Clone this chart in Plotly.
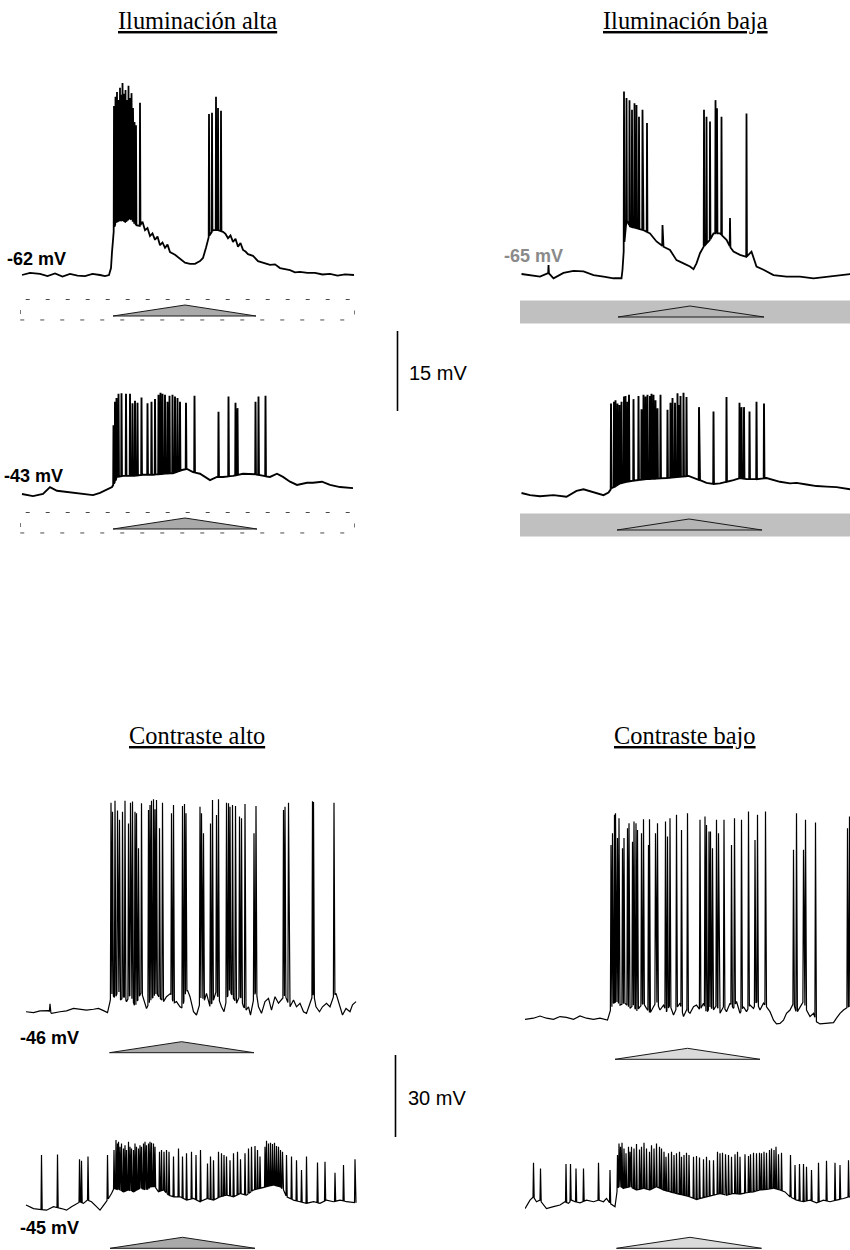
import numpy as np
import plotly.graph_objects as go

W, H = 850, 1250

# ------------------------------------------------------------------
# Recordings: slow membrane potential (t in s, v in mV) and spike peaks
# ------------------------------------------------------------------

# Iluminación alta, upper trace (-62 mV)
ia1_t = [0.04, 0.2, 0.4, 0.55, 0.7, 0.85, 1.0, 1.15, 1.3, 1.45, 1.6, 1.7, 1.78, 1.82, 1.84, 1.88, 1.92, 2.0, 2.1, 2.2,
         2.3, 2.4, 2.45, 2.5, 2.55, 2.6, 2.65, 2.7, 2.75, 2.8, 2.85, 2.9, 2.95, 3.0, 3.1, 3.2, 3.3, 3.4, 3.5, 3.6,
         3.66, 3.72, 3.78, 3.86, 3.96, 4.06, 4.11, 4.16, 4.21, 4.26, 4.31, 4.36, 4.41, 4.46, 4.51, 4.56, 4.66, 4.76,
         4.86, 5.0, 5.1, 5.2, 5.3, 5.4, 5.5, 5.6, 5.75, 5.9, 6.05, 6.2, 6.35, 6.5, 6.68]
ia1_v = [-62.0, -61.6, -61.8, -62.2, -61.7, -62.3, -61.8, -62.1, -62.2, -61.8, -62.0, -62.2, -62.0, -60.7, -57.7,
         -53.2, -52.1, -51.7, -52.1, -51.3, -52.6, -52.8, -52.0, -53.6, -53.2, -54.7, -54.2, -55.4, -54.8, -56.4,
         -55.9, -56.9, -56.3, -57.7, -58.2, -59.0, -59.7, -59.9, -59.9, -59.4, -58.8, -56.9, -54.7, -53.6, -53.6,
         -53.9, -54.3, -55.1, -54.6, -55.8, -55.2, -56.7, -56.0, -57.3, -57.6, -58.1, -58.4, -59.4, -59.7, -60.1,
         -60.0, -60.7, -60.9, -61.1, -61.5, -61.4, -61.6, -61.6, -61.9, -61.8, -62.1, -61.9, -62.0]
ia1_spk_t = [1.88, 1.91, 1.94, 1.97, 2.00, 2.02, 2.05, 2.08, 2.11, 2.14, 2.17, 2.20, 2.23, 2.26, 2.29, 2.32, 2.40,
             3.78, 3.84, 3.92, 3.96, 4.02]
ia1_spk_v = [-30.3, -28.6, -27.7, -29.2, -26.9, -28.2, -26.0, -28.0, -27.3, -29.2, -26.5, -28.8, -27.9, -30.7, -33.3,
             -33.9, -29.7, -31.8, -31.6, -28.6, -30.7, -31.2]

# Iluminación alta, lower trace (-43 mV)
ia2_t = [0.04, 0.26, 0.46, 0.6, 0.74, 0.94, 1.2, 1.46, 1.6, 1.74, 1.84, 1.9, 1.94, 2.06, 2.26, 2.46, 2.66, 2.86, 3.06,
         3.24, 3.34, 3.46, 3.6, 3.8, 3.94, 4.06, 4.26, 4.46, 4.66, 4.86, 5.0, 5.14, 5.26, 5.4, 5.54, 5.74, 5.86, 6.04,
         6.2, 6.4, 6.66]
ia2_v = [-43.0, -43.4, -43.0, -41.7, -42.4, -42.6, -43.0, -43.2, -42.8, -42.2, -41.7, -40.7, -39.8, -39.6, -39.6,
         -39.4, -39.4, -39.2, -39.1, -38.5, -38.3, -38.9, -39.2, -40.4, -39.8, -39.8, -39.6, -39.2, -39.2, -39.6,
         -39.8, -39.2, -39.8, -40.7, -41.3, -40.9, -40.9, -40.7, -41.3, -41.7, -41.9]
ia2_spk_t = [1.87, 1.90, 1.93, 1.97, 2.03, 2.12, 2.20, 2.25, 2.30, 2.35, 2.43, 2.55, 2.63, 2.70, 2.77, 2.81, 2.85,
             2.90, 2.95, 2.99, 3.05, 3.10, 3.15, 3.20, 3.32, 3.49, 3.97, 4.17, 4.31, 4.35, 4.71, 4.77, 4.91]
ia2_spk_v = [-30.1, -25.7, -25.0, -24.2, -24.1, -24.2, -24.2, -26.0, -25.5, -25.9, -24.9, -26.0, -25.7, -25.2, -24.4,
             -24.0, -24.2, -24.4, -25.7, -24.6, -24.4, -24.7, -25.0, -25.7, -25.9, -24.6, -27.6, -24.7, -25.9, -26.9,
             -25.7, -24.7, -24.6]

# Iluminación baja, upper trace (-65 mV)
ib1_t = [0.03, 0.2, 0.4, 0.57, 0.67, 0.87, 1.07, 1.27, 1.47, 1.67, 1.87, 2.03, 2.05, 2.08, 2.13, 2.2, 2.33, 2.47, 2.6,
         2.73, 2.87, 3.0, 3.13, 3.27, 3.4, 3.47, 3.53, 3.6, 3.67, 3.8, 3.87, 4.0, 4.13, 4.2, 4.27, 4.4, 4.53, 4.63,
         4.68, 4.73, 4.87, 5.07, 5.33, 5.6, 5.87, 6.13, 6.4, 6.7]
ib1_v = [-65.0, -65.2, -65.5, -64.8, -65.8, -64.8, -64.4, -64.5, -65.2, -65.5, -65.8, -65.8, -64.2, -59.9, -54.9,
         -56.1, -56.4, -56.8, -57.4, -58.9, -59.9, -60.5, -62.4, -63.0, -63.6, -64.1, -63.0, -61.1, -59.9, -58.6,
         -57.4, -57.4, -58.6, -59.9, -60.8, -61.4, -61.8, -60.8, -62.4, -63.6, -64.2, -65.2, -65.5, -65.5, -65.8,
         -65.5, -65.2, -64.9]
ib1_spk_t = [0.57, 2.08, 2.13, 2.19, 2.24, 2.29, 2.33, 2.38, 2.45, 2.54, 2.85, 3.68, 3.73, 3.80, 3.91, 3.94, 4.03,
             4.20, 4.53]
ib1_spk_v = [-63.3, -30.8, -32.0, -32.4, -34.2, -33.0, -33.3, -35.5, -34.2, -36.7, -55.8, -34.2, -35.5, -36.4, -32.4,
             -33.9, -35.5, -54.5, -34.9]

# Iluminación baja, lower trace
ib2_t = [0.03, 0.2, 0.4, 0.67, 0.93, 1.13, 1.27, 1.47, 1.67, 1.77, 1.83, 1.9, 2.0, 2.13, 2.33, 2.53, 2.73, 2.93, 3.13,
         3.27, 3.37, 3.47, 3.6, 3.73, 3.87, 4.0, 4.13, 4.27, 4.4, 4.53, 4.73, 4.93, 5.07, 5.2, 5.4, 5.53, 5.73, 5.93,
         6.13, 6.33, 6.6, 6.7]
ib2_v = [-44.0, -44.4, -44.6, -44.4, -44.7, -43.6, -43.3, -43.8, -44.4, -43.9, -43.1, -42.8, -42.2, -41.9, -41.6,
         -41.4, -41.3, -41.2, -41.0, -40.9, -40.8, -41.2, -41.6, -42.1, -42.3, -42.2, -41.9, -41.6, -41.2, -41.4,
         -41.4, -41.2, -41.6, -41.9, -42.2, -42.1, -42.4, -42.7, -42.8, -42.9, -43.3, -43.3]
ib2_spk_t = [1.82, 1.88, 1.91, 1.95, 1.99, 2.03, 2.08, 2.11, 2.15, 2.18, 2.27, 2.37, 2.43, 2.47, 2.51, 2.55, 2.60,
             2.63, 2.67, 2.71, 2.75, 2.81, 2.95, 3.01, 3.05, 3.10, 3.15, 3.18, 3.21, 3.27, 3.33, 3.58, 3.87, 4.13,
             4.39, 4.43, 4.48, 4.59, 4.73, 4.88]
ib2_spk_v = [-27.2, -26.9, -26.6, -27.2, -27.5, -26.9, -25.9, -25.8, -26.9, -25.6, -26.4, -25.8, -28.3, -25.6, -25.9,
             -25.6, -25.8, -25.4, -25.6, -26.6, -28.1, -25.6, -28.4, -27.1, -26.2, -27.1, -25.3, -27.5, -25.8, -25.2,
             -26.0, -27.9, -28.7, -26.0, -27.1, -27.9, -27.9, -28.7, -26.9, -27.2]

# Contraste alto, upper trace (-46 mV)
ca1_t = [0.02, 0.17, 0.3, 0.47, 0.53, 0.7, 0.83, 0.97, 1.1, 1.23, 1.37, 1.47, 1.57, 1.65, 1.7, 1.73, 1.8, 1.87, 1.91,
         1.98, 2.03, 2.1, 2.15, 2.2, 2.27, 2.33, 2.4, 2.43, 2.5, 2.57, 2.63, 2.7, 2.77, 2.83, 2.91, 2.97, 3.03, 3.1,
         3.15, 3.2, 3.25, 3.3, 3.37, 3.43, 3.49, 3.53, 3.58, 3.63, 3.7, 3.77, 3.82, 3.87, 3.93, 3.98, 4.03, 4.09,
         4.17, 4.23, 4.3, 4.37, 4.42, 4.47, 4.51, 4.57, 4.62, 4.67, 4.73, 4.8, 4.87, 4.93, 5.0, 5.07, 5.13, 5.2,
         5.25, 5.3, 5.37, 5.43, 5.5, 5.57, 5.63, 5.71, 5.77, 5.82, 5.89, 5.95, 6.03, 6.1, 6.17, 6.22, 6.29, 6.35,
         6.42, 6.5, 6.55, 6.62]
ca1_v = [-45.9, -46.2, -45.6, -45.5, -46.5, -45.9, -45.6, -44.7, -45.0, -45.3, -45.0, -44.7, -45.5, -46.2, -42.2,
         -39.2, -41.0, -38.0, -41.6, -40.4, -42.2, -39.8, -41.6, -44.1, -41.0, -38.6, -43.4, -44.7, -42.2, -40.4,
         -39.2, -41.0, -42.2, -40.4, -39.2, -42.8, -42.2, -44.1, -44.7, -39.8, -38.0, -40.4, -45.9, -47.1, -43.4,
         -39.8, -42.2, -39.2, -44.1, -41.6, -38.6, -41.0, -44.1, -45.9, -41.6, -38.0, -41.0, -42.8, -39.8, -44.1,
         -45.3, -44.1, -47.1, -41.6, -38.0, -44.1, -46.5, -42.2, -41.0, -45.3, -40.4, -42.8, -41.6, -39.8, -42.2,
         -44.1, -41.6, -44.1, -42.8, -45.9, -46.5, -42.2, -39.2, -44.1, -45.9, -44.1, -42.8, -44.1, -40.4, -39.2,
         -43.4, -47.1, -44.7, -45.9, -43.4, -42.2]
ca1_spk_t = [0.5, 1.72, 1.75, 1.8, 1.85, 1.89, 1.95, 2.0, 2.07, 2.11, 2.15, 2.2, 2.23, 2.27, 2.33, 2.47, 2.5, 2.53,
             2.57, 2.6, 2.63, 2.69, 2.75, 2.93, 2.97, 3.15, 3.19, 3.22, 3.5, 3.53, 3.57, 3.71, 3.75, 3.83, 3.87, 4.03,
             4.07, 4.1, 4.15, 4.21, 4.29, 4.33, 4.4, 4.58, 4.62, 5.17, 5.2, 5.27, 5.75, 5.77, 6.18]
ca1_spk_v = [-43.0, 30.6, 27.3, 31.3, 27.7, 24.3, 27.3, 31.3, 23.0, 30.6, 31.0, 27.3, 26.7, 13.9, 30.4, 27.9, 29.7,
             31.3, 31.8, 28.2, 31.6, 21.2, 30.6, 26.7, 29.7, 29.4, 30.1, 26.7, 29.1, 26.7, 19.4, 23.0, 31.6, 26.1,
             31.8, 30.6, 30.4, 29.1, 29.7, 29.4, 25.5, 24.9, 30.1, 19.4, 29.4, 27.9, 29.1, 30.6, 31.1, 30.8, 30.6]

# Contraste alto, lower trace (-45 mV)
ca2_t = [0.02, 0.17, 0.43, 0.57, 0.73, 0.83, 0.93, 1.03, 1.1, 1.17, 1.25, 1.33, 1.43, 1.5, 1.6, 1.67, 1.73, 1.78,
         1.87, 1.97, 2.07, 2.17, 2.3, 2.43, 2.53, 2.6, 2.67, 2.77, 2.87, 2.97, 3.1, 3.23, 3.37, 3.5, 3.63, 3.77, 3.9,
         4.03, 4.17, 4.3, 4.43, 4.57, 4.7, 4.83, 4.97, 5.1, 5.17, 5.23, 5.37, 5.5, 5.63, 5.77, 5.9, 6.03, 6.17, 6.3,
         6.43, 6.62]
ca2_v = [-45.0, -46.3, -46.9, -45.6, -46.3, -46.9, -45.6, -44.7, -43.8, -44.4, -43.2, -43.8, -45.6, -46.9, -44.4,
         -42.6, -40.8, -38.9, -39.5, -40.2, -39.5, -40.2, -38.9, -39.5, -38.3, -38.3, -40.2, -39.5, -41.4, -42.0,
         -42.0, -43.2, -42.6, -43.8, -42.6, -43.2, -42.0, -41.4, -42.0, -40.8, -41.4, -39.5, -38.9, -38.3, -37.7,
         -38.3, -39.5, -42.0, -43.2, -43.8, -44.4, -43.8, -44.4, -43.2, -43.8, -43.2, -43.8, -44.2]
ca2_spk_t = [0.33, 0.65, 1.09, 1.13, 1.26, 1.65, 1.78, 1.82, 1.85, 1.87, 1.9, 1.93, 1.97, 2.0, 2.03, 2.07, 2.1, 2.13,
             2.17, 2.2, 2.23, 2.27, 2.3, 2.33, 2.37, 2.4, 2.43, 2.47, 2.5, 2.53, 2.57, 2.6, 2.69, 2.73, 2.78, 2.83,
             2.88, 2.97, 3.07, 3.15, 3.23, 3.33, 3.42, 3.51, 3.65, 3.71, 3.77, 3.87, 3.93, 3.98, 4.03, 4.1, 4.17, 4.25,
             4.31, 4.4, 4.47, 4.53, 4.6, 4.65, 4.7, 4.8, 4.83, 4.87, 4.91, 4.95, 4.99, 5.03, 5.07, 5.11, 5.15, 5.23,
             5.33, 5.43, 5.53, 5.63, 5.85, 6.0, 6.2, 6.37, 6.6]
ca2_spk_v = [-26.7, -26.5, -28.3, -28.8, -27.3, -26.7, -24.9, -21.2, -22.5, -21.9, -23.7, -22.5, -24.3, -23.1, -24.9,
             -21.9, -23.7, -24.3, -24.9, -22.5, -23.7, -24.3, -23.1, -23.7, -22.5, -21.9, -23.1, -22.5, -21.9, -22.2,
             -22.5, -23.7, -25.5, -24.9, -25.5, -24.9, -25.5, -27.3, -24.3, -27.3, -26.1, -25.5, -26.7, -24.9, -29.8,
             -27.3, -28.6, -25.5, -26.1, -26.7, -27.3, -28.6, -26.1, -25.5, -28.3, -26.1, -24.3, -23.7, -23.4, -24.9,
             -27.3, -23.7, -21.5, -22.5, -22.2, -22.7, -22.2, -23.4, -23.7, -24.9, -25.5, -26.7, -27.3, -28.6, -32.2,
             -27.3, -29.5, -29.2, -33.2, -30.4, -28.3]

# Contraste bajo, upper trace
cb1_t = [0.0, 0.17, 0.3, 0.43, 0.57, 0.7, 0.83, 0.97, 1.1, 1.23, 1.37, 1.5, 1.65, 1.71, 1.77, 1.83, 1.9, 2.0, 2.1,
         2.17, 2.23, 2.3, 2.37, 2.43, 2.5, 2.57, 2.63, 2.7, 2.77, 2.83, 2.9, 2.97, 3.03, 3.1, 3.17, 3.23, 3.3, 3.37,
         3.43, 3.5, 3.57, 3.63, 3.7, 3.77, 3.83, 3.9, 3.97, 4.03, 4.1, 4.17, 4.23, 4.3, 4.37, 4.43, 4.5, 4.57, 4.63,
         4.7, 4.77, 4.83, 4.9, 4.97, 5.03, 5.1, 5.17, 5.23, 5.3, 5.37, 5.43, 5.5, 5.57, 5.63, 5.7, 5.77, 5.83, 5.9,
         6.03, 6.17, 6.23, 6.3, 6.37, 6.47, 6.6]
cb1_v = [-47.0, -46.6, -45.8, -46.6, -47.0, -46.0, -46.3, -47.0, -45.8, -46.6, -47.0, -46.6, -47.3, -43.6, -41.1,
         -40.5, -41.8, -41.1, -43.0, -41.8, -44.2, -42.4, -41.1, -43.0, -44.8, -42.4, -40.5, -43.6, -41.8, -44.2,
         -41.8, -45.4, -43.0, -41.1, -46.0, -43.6, -44.8, -42.4, -41.8, -43.6, -41.1, -44.8, -42.4, -43.6, -41.8,
         -44.8, -42.4, -44.2, -41.1, -43.0, -40.5, -44.8, -42.4, -44.2, -41.8, -43.0, -40.5, -43.6, -41.1, -42.4,
         -44.2, -47.3, -48.7, -48.5, -47.3, -44.8, -43.6, -41.1, -44.8, -42.4, -40.5, -43.6, -46.0, -44.8, -47.9,
         -48.7, -48.5, -48.2, -46.6, -44.8, -43.6, -42.4, -42.0]
cb1_spk_t = [1.72, 1.75, 1.79, 1.81, 1.85, 1.88, 1.95, 1.98, 2.05, 2.08, 2.15, 2.18, 2.22, 2.25, 2.33, 2.37, 2.47,
             2.49, 2.61, 2.65, 2.81, 2.85, 2.9, 3.03, 3.13, 3.25, 3.5, 3.6, 3.63, 3.68, 3.71, 3.75, 3.83, 3.87, 3.98,
             4.13, 4.19, 4.33, 4.47, 4.6, 4.65, 4.81, 5.37, 5.43, 5.57, 5.61, 5.81, 6.45, 6.49]
cb1_spk_v = [16.8, 21.1, 27.8, 28.4, 19.3, 26.6, 15.6, 19.3, 22.9, 24.7, 18.0, 25.4, 24.7, 22.3, 21.1, 26.2, 16.8,
             26.2, 21.1, 24.7, 25.4, 19.9, 26.6, 27.8, 22.3, 28.4, 26.0, 27.2, 24.1, 21.7, 21.7, 15.6, 26.0, 21.1,
             26.0, 16.8, 26.6, 26.0, 29.0, 18.6, 27.8, 29.0, 15.0, 28.4, 15.0, 26.0, 25.0, 22.9, 27.2]

# Contraste bajo, lower trace
cb2_t = [0.0, 0.1, 0.17, 0.23, 0.3, 0.37, 0.43, 0.57, 0.7, 0.8, 0.87, 0.93, 1.0, 1.1, 1.23, 1.37, 1.47, 1.57, 1.63,
         1.7, 1.8, 1.83, 1.87, 1.97, 2.1, 2.23, 2.37, 2.5, 2.63, 2.77, 2.9, 3.03, 3.17, 3.3, 3.43, 3.5, 3.63, 3.77,
         3.9, 4.03, 4.17, 4.3, 4.43, 4.57, 4.7, 4.83, 4.97, 5.1, 5.2, 5.3, 5.43, 5.57, 5.7, 5.83, 5.97, 6.1, 6.23,
         6.37, 6.47, 6.6]
cb2_v = [-46.1, -43.0, -41.8, -43.6, -43.0, -44.8, -46.1, -45.4, -44.8, -43.6, -44.2, -43.0, -43.6, -44.0, -43.0,
         -43.6, -43.0, -43.6, -42.4, -44.2, -45.4, -40.6, -38.1, -38.7, -38.1, -39.3, -38.7, -39.3, -38.1, -39.3,
         -40.0, -40.6, -41.2, -41.8, -42.8, -42.4, -41.8, -41.2, -40.6, -41.2, -40.6, -40.8, -40.3, -40.0, -39.3,
         -39.1, -38.7, -39.3, -40.0, -41.8, -43.0, -43.6, -43.0, -44.0, -43.0, -43.6, -43.0, -42.4, -41.8, -41.8]
cb2_spk_t = [0.17, 0.31, 0.82, 0.91, 1.02, 1.17, 1.47, 1.7, 1.85, 1.88, 1.91, 1.94, 1.98, 2.02, 2.07, 2.1, 2.13, 2.18,
             2.23, 2.29, 2.33, 2.38, 2.43, 2.49, 2.53, 2.58, 2.63, 2.69, 2.73, 2.78, 2.82, 2.87, 2.93, 2.98, 3.03,
             3.09, 3.13, 3.18, 3.23, 3.28, 3.37, 3.43, 3.49, 3.57, 3.63, 3.69, 3.77, 3.85, 3.9, 3.95, 4.01, 4.07,
             4.13, 4.2, 4.25, 4.3, 4.4, 4.47, 4.51, 4.57, 4.63, 4.69, 4.73, 4.78, 4.83, 4.89, 4.93, 4.98, 5.02, 5.07,
             5.13, 5.31, 5.4, 5.49, 5.57, 5.63, 5.73, 5.87, 6.03, 6.2, 6.3, 6.47]
cb2_spk_v = [-29.3, -31.4, -29.8, -29.8, -31.4, -31.4, -29.3, -32.0, -26.5, -22.3, -23.5, -22.0, -24.1, -25.9, -23.5,
             -25.3, -23.5, -24.1, -22.5, -24.5, -23.5, -22.0, -24.1, -25.3, -22.9, -24.1, -22.3, -23.5, -24.1, -25.3,
             -27.1, -25.9, -25.3, -26.5, -25.9, -25.3, -27.1, -26.5, -25.7, -26.5, -27.1, -26.9, -27.4, -28.1, -27.1,
             -28.4, -28.4, -25.3, -25.9, -25.7, -26.2, -26.5, -27.1, -26.2, -25.3, -27.1, -26.2, -26.9, -26.2, -25.7,
             -25.9, -25.7, -25.9, -25.3, -25.7, -24.7, -24.1, -24.7, -23.5, -26.2, -25.7, -26.5, -30.2, -29.8, -29.8,
             -30.8, -32.0, -29.3, -28.6, -29.3, -30.2, -28.4]

# Stimulus ramps: onset, peak, offset (s)
stim_ia1 = [1.86, 3.30, 4.72]
stim_ia2 = [1.86, 3.30, 4.74]
stim_ib1 = [1.96, 3.40, 4.88]
stim_ib2 = [1.94, 3.38, 4.84]
stim_ca1 = [1.69, 3.13, 4.58]
stim_ca2 = [1.70, 3.15, 4.60]
stim_cb1 = [1.80, 3.25, 4.70]
stim_cb2 = [1.83, 3.30, 4.73]

# Scale bars (mV)
scale_ilum_mv = 15
scale_contr_mv = 30

# Resting potential labels
vm_labels = ["-62 mV", "-43 mV", "-65 mV", "-46 mV", "-45 mV"]
titles = ["Iluminación alta", "Iluminación baja", "Contraste alto", "Contraste bajo"]


# ------------------------------------------------------------------
def build_trace(env_t, env_v, spk_t, spk_v, rise, fall):
    """Slow potential with each action potential drawn as a narrow spike."""
    assert len(env_t) == len(env_v) and len(spk_t) == len(spk_v)
    env_t = np.asarray(env_t, float)
    env_v = np.asarray(env_v, float)
    keep = np.ones(len(env_t), bool)
    for t in spk_t:
        keep &= ~((env_t > t - rise) & (env_t < t + fall))
    pts = list(zip(env_t[keep], env_v[keep]))
    for t, v in zip(spk_t, spk_v):
        pts.append((t - rise, float(np.interp(t - rise, env_t, env_v))))
        pts.append((t, v))
        pts.append((t + fall, float(np.interp(t + fall, env_t, env_v))))
    pts.sort(key=lambda p: p[0])
    return [p[0] for p in pts], [p[1] for p in pts]


fig = go.Figure()
axis_count = [0]


def xdom(a, b):
    return [a / W, b / W]


def ydom(top, bot):
    return [1 - bot / H, 1 - top / H]


def new_axes(xpx, ypx, xr, yr):
    axis_count[0] += 1
    n = axis_count[0]
    xs = "xaxis" if n == 1 else f"xaxis{n}"
    ys = "yaxis" if n == 1 else f"yaxis{n}"
    xref = "x" if n == 1 else f"x{n}"
    yref = "y" if n == 1 else f"y{n}"
    fig.update_layout(**{
        xs: dict(domain=xdom(*xpx), range=xr, visible=False, anchor=yref, fixedrange=True),
        ys: dict(domain=ydom(*ypx), range=yr, visible=False, anchor=xref, fixedrange=True),
    })
    return xref, yref


def mv_range(ypx, ref_v, ref_px, k):
    top, bot = ypx
    return [ref_v - (bot - ref_px) / k, ref_v + (ref_px - top) / k]


K_TOP = 80 / 15.0    # px per mV, upper figure
K_BOT = 82 / 30.0    # px per mV, lower figure
K_STIM = 11.0        # px per stimulus unit

# (data, x px span, t range, y px span, reference mV, ref px, px/mV, line width, spike rise/fall)
records = [
    (ia1_t, ia1_v, ia1_spk_t, ia1_spk_v, (20, 355), [0, 6.7], (70, 292), -62, 275, K_TOP, 1.8, 0.006, 0.009),
    (ia2_t, ia2_v, ia2_spk_t, ia2_spk_v, (20, 355), [0, 6.7], (380, 505), -43, 494, K_TOP, 1.9, 0.006, 0.009),
    (ib1_t, ib1_v, ib1_spk_t, ib1_spk_v, (520, 850), [0, 6.6], (70, 292), -65, 274, K_TOP, 1.8, 0.006, 0.009),
    (ib2_t, ib2_v, ib2_spk_t, ib2_spk_v, (520, 850), [0, 6.6], (380, 505), -44, 493, K_TOP, 1.9, 0.006, 0.009),
    (ca1_t, ca1_v, ca1_spk_t, ca1_spk_v, (25, 358), [0, 6.66], (790, 1030), -46, 1012, K_BOT, 1.2, 0.012, 0.018),
    (ca2_t, ca2_v, ca2_spk_t, ca2_spk_v, (25, 358), [0, 6.66], (1120, 1215), -45, 1205, K_BOT, 1.2, 0.010, 0.014),
    (cb1_t, cb1_v, cb1_spk_t, cb1_spk_v, (525, 850), [0, 6.5], (790, 1035), -47, 1019.3, K_BOT, 1.2, 0.012, 0.018),
    (cb2_t, cb2_v, cb2_spk_t, cb2_spk_v, (525, 850), [0, 6.5], (1120, 1218), -46, 1208.3, K_BOT, 1.2, 0.010, 0.014),
]

for et, ev, st, sv, xpx, xr, ypx, rv, rpx, k, lw, rise, fall in records:
    xa, ya = new_axes(xpx, ypx, xr, mv_range(ypx, rv, rpx, k))
    tx, vy = build_trace(et, ev, st, sv, rise, fall)
    fig.add_trace(go.Scatter(x=tx, y=vy, mode="lines", xaxis=xa, yaxis=ya,
                             line=dict(color="black", width=lw), hoverinfo="skip"))

# Stimulus panels: (ramp, x px span, t range, y px span, base px, background, triangle fill)
stim_panels = [
    (stim_ia1, (20, 355), [0, 6.7], (294, 326), 316, "dashed", "#a9a9a9"),
    (stim_ia2, (20, 355), [0, 6.7], (509, 538), 529, "dashed", "#a9a9a9"),
    (stim_ib1, (520, 850), [0, 6.6], (294, 328), 317, "grey", "#b4b4b4"),
    (stim_ib2, (520, 850), [0, 6.6], (509, 541), 530, "grey", "#b4b4b4"),
    (stim_ca1, (25, 358), [0, 6.66], (1036, 1058), 1052.7, None, "#a9a9a9"),
    (stim_ca2, (25, 358), [0, 6.66], (1232, 1250), 1248.3, None, "#a9a9a9"),
    (stim_cb1, (525, 850), [0, 6.5], (1043, 1064), 1059.3, None, "#dadada"),
    (stim_cb2, (525, 850), [0, 6.5], (1232, 1250), 1248.3, None, "#dadada"),
]

for ramp, xpx, xr, ypx, base_px, bg, fill in stim_panels:
    top, bot = ypx
    yr = [-(bot - base_px) / K_STIM, (base_px - top) / K_STIM]
    xa, ya = new_axes(xpx, ypx, xr, yr)
    if bg == "dashed":
        fig.add_shape(type="rect", xref=xa, yref=ya, x0=xr[0] + 0.005, x1=xr[1] - 0.005, y0=-0.36, y1=1.5,
                      line=dict(color="#4a4a4a", width=1, dash="4px,16px"), fillcolor="rgba(0,0,0,0)",
                      layer="below")
    elif bg == "grey":
        fig.add_shape(type="rect", xref=xa, yref=ya, x0=xr[0], x1=xr[1] + 0.5, y0=-0.6, y1=1.5,
                      line=dict(width=0), fillcolor="#c0c0c0", layer="below")
    on, peak, off = ramp
    fig.add_trace(go.Scatter(x=[on, peak, off, on], y=[0, 1, 0, 0], mode="lines", fill="toself",
                             fillcolor=fill, line=dict(color="#1a1a1a", width=1),
                             xaxis=xa, yaxis=ya, hoverinfo="skip"))

# Vertical scale bars
for mv, xpx, ypx, bot_px, k in [(scale_ilum_mv, (390, 405), (300, 440), 411, K_TOP),
                                 (scale_contr_mv, (388, 403), (1040, 1150), 1137, K_BOT)]:
    top, bot = ypx
    lo = -(bot - bot_px) / k
    xa, ya = new_axes(xpx, ypx, [0, 1], [lo, lo + (bot - top) / k])
    fig.add_trace(go.Scatter(x=[0.5, 0.5], y=[0, mv], mode="lines", xaxis=xa, yaxis=ya,
                             line=dict(color="black", width=1.6), hoverinfo="skip"))

SANS = "Liberation Sans, Arial, sans-serif"
SERIF = "Liberation Serif, Times New Roman, serif"


def ann(text, xpx, ypx, size, family, color="black", xanchor="left", bold=False):
    if bold:
        text = f"<b>{text}</b>"
    fig.add_annotation(text=text, x=xpx / W, y=1 - ypx / H, xref="paper", yref="paper",
                       xanchor=xanchor, yanchor="middle", showarrow=False,
                       font=dict(size=size, family=family, color=color))


# Panel titles
for title, (cx, cy) in zip(titles, [(197, 20), (685, 20), (197, 735), (685, 735)]):
    ann(f"<u>{title}</u>", cx, cy, 24.4, SERIF, xanchor="center")

# Membrane potential labels
for lab, (lx, ly), col in zip(vm_labels,
                              [(5, 259), (2, 476), (502, 256), (18, 1038), (18, 1228)],
                              ["black", "black", "#8a8a8a", "black", "black"]):
    ann(lab, lx, ly, 18, SANS, color=col, bold=True)

ann(f"{scale_ilum_mv} mV", 407, 373, 20, SANS)
ann(f"{scale_contr_mv} mV", 406, 1098, 20, SANS)

fig.update_layout(width=W, height=H, margin=dict(l=0, r=0, t=0, b=0),
                  paper_bgcolor="white", plot_bgcolor="white", showlegend=False)

fig.write_html("out.html")
